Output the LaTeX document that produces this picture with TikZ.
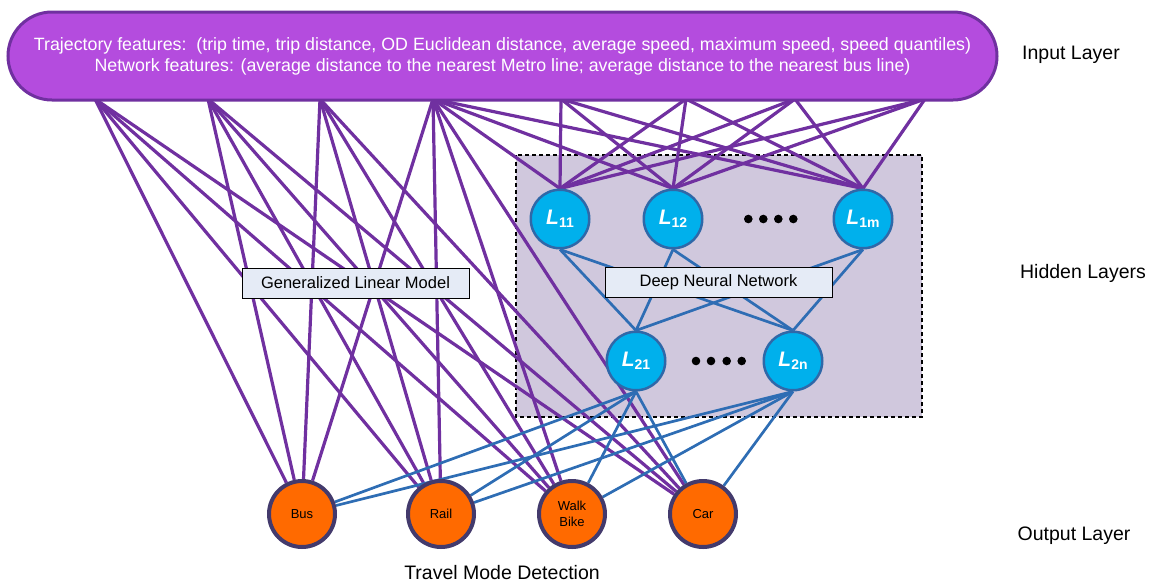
\documentclass[tikz,border=0pt]{standalone}
\usepackage{fontspec}
\setmainfont{Liberation Sans}
\pgfdeclarelayer{bg}
\pgfdeclarelayer{wires}
\pgfsetlayers{bg,wires,main}
\definecolor{purp}{HTML}{7030A0}
\definecolor{pillfill}{HTML}{B44CDE}
\definecolor{wireblue}{HTML}{2E6DB4}
\definecolor{hidfill}{HTML}{00B0EC}
\definecolor{hidborder}{HTML}{2F68A8}
\definecolor{outfill}{HTML}{FF6A00}
\definecolor{outborder}{HTML}{433A6C}
\definecolor{dnnbg}{HTML}{D0C8DD}
\definecolor{lblfill}{HTML}{E5EBF6}
\tikzset{
 pill/.style={draw=purp, line width=3pt, fill=pillfill, rounded corners=44pt, minimum width=989pt, minimum height=88pt, text=white, align=center, inner sep=0pt, font=\fontsize{17.8}{21}\selectfont},
 hid/.style={circle, draw=hidborder, line width=2.5pt, fill=hidfill, minimum size=58.5pt, inner sep=0pt, text=white},
 outn/.style={circle, draw=outborder, line width=4pt, fill=outfill, minimum size=66pt, inner sep=0pt, font=\fontsize{13}{16}\selectfont, align=center},
 lbl/.style={draw=black, line width=1pt, fill=lblfill, minimum width=227pt, minimum height=30pt, inner sep=0pt, font=\fontsize{16.5}{18}\selectfont},
 pw/.style={draw=purp, line width=3.2pt},
 bw/.style={draw=wireblue, line width=2.7pt},
 layerlbl/.style={font=\fontsize{19.5}{22}\selectfont},
 dotn/.style={circle, fill=black, minimum size=8.6pt, inner sep=0pt},
}
\newcommand\Lsub[1]{{\fontsize{21}{21}\selectfont\bfseries\itshape L}\raisebox{-3pt}{\fontsize{14}{14}\selectfont\bfseries #1}}
\begin{document}
\begin{tikzpicture}[x=1pt,y=-1pt]
\useasboundingbox (0,0) rectangle (1149,582);
\begin{pgfonlayer}{bg}
\draw[fill=dnnbg, line width=1.2pt, dash pattern=on 4pt off 3pt] (516,155) rectangle (922,417);
\end{pgfonlayer}
% input
\node[pill] (in) at (502.5,56) {Trajectory features:\ \ (trip time, trip distance, OD Euclidean distance, average speed, maximum speed, speed quantiles)\\Network features: (average distance to the nearest Metro line; average distance to the nearest bus line)};
\coordinate (a1) at (95,99);
\coordinate (a2) at (208,99);
\coordinate (a3) at (320,99);
\coordinate (a4) at (433,99);
\coordinate (b1) at (561,99);
\coordinate (b2) at (686,99);
\coordinate (b3) at (795,99);
\coordinate (b4) at (925,99);
% hidden
\node[hid] (L11) at (560,219) {\Lsub{11}};
\node[hid] (L12) at (673,219) {\Lsub{12}};
\node[hid] (L1m) at (863,219) {\Lsub{1m}};
\node[hid] (L21) at (636,361) {\Lsub{21}};
\node[hid] (L2n) at (793,361) {\Lsub{2n}};
\node[dotn] (d1) at (748.3,219) {};
\node[dotn] (d2) at (763.3,219) {};
\node[dotn] (d3) at (778.3,219) {};
\node[dotn] (d4) at (793.3,219) {};
\node[dotn] (e1) at (696,361) {};
\node[dotn] (e2) at (711,361) {};
\node[dotn] (e3) at (726.7,361) {};
\node[dotn] (e4) at (741.7,361) {};
% outputs
\node[outn] (bus) at (302,514) {Bus};
\node[outn] (rail) at (441,514) {Rail};
\node[outn] (walk) at (572,514) {Walk\\Bike};
\node[outn] (car) at (703,514) {Car};
% wires
\begin{pgfonlayer}{wires}
\foreach \a in {a1,a2,a3,a4} \foreach \o in {bus,rail,walk,car} \draw[pw] (\a) -- (\o);
\foreach \a in {a4,b1,b2,b3,b4} \foreach \h in {L11,L12,L1m} \draw[pw] (\a) -- (\h.north);
\foreach \h in {L11,L12,L1m} \foreach \g in {L21,L2n} \draw[bw] (\h.south) -- (\g.north);
\foreach \g in {L21,L2n} \foreach \o in {bus,rail,walk,car} \draw[bw] (\g.south) -- (\o);
\end{pgfonlayer}
% labels
\node[lbl] (glm) at (355.5,283) {Generalized Linear Model};
\node[lbl] (dnn) at (718.5,282) {Deep Neural Network};
\node[layerlbl] (inl) at (1071,55) {Input Layer};
\node[layerlbl] (hidl) at (1083,273) {Hidden Layers};
\node[layerlbl] (outl) at (1074,536) {Output Layer};
\node[layerlbl] (tmd) at (502,573) {Travel Mode Detection};
\end{tikzpicture}
\end{document}
